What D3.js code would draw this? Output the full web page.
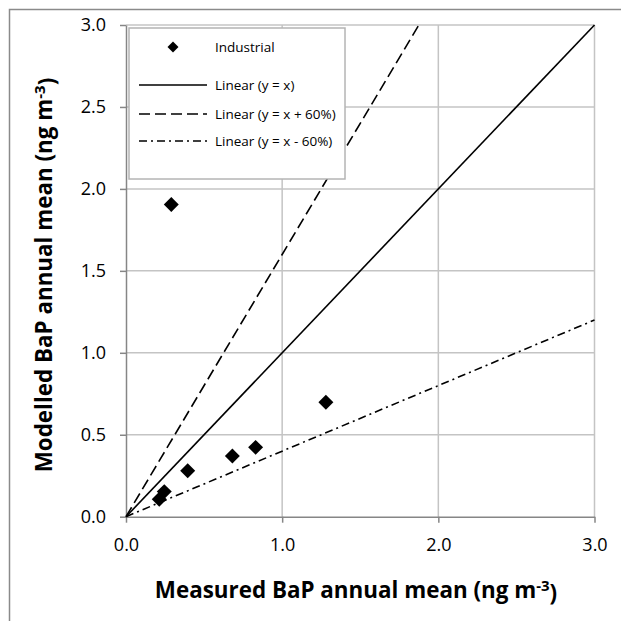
<!DOCTYPE html>
<html><head><meta charset="utf-8">
<script src="https://cdn.jsdelivr.net/npm/d3@7"></script>
<style>body{margin:0;background:#fff}svg{display:block}</style>
</head><body>
<svg id="c" width="621" height="621"></svg>
<script>
// Data
const measured = [0.29, 0.213, 0.245, 0.395, 0.681, 0.830, 1.280];
const modelled = [1.905, 0.106, 0.153, 0.281, 0.370, 0.423, 0.698];
const xTicks = [0, 1, 2, 3];
const yTicks = [0, 0.5, 1, 1.5, 2, 2.5, 3];
const seriesName = "Industrial";
const lineNames = ["Linear (y = x)", "Linear (y = x + 60%)", "Linear (y = x - 60%)"];
const lineFactors = [1, 1.6, 0.4];
const xTitle = "Measured BaP annual mean (ng m";
const yTitle = "Modelled BaP annual mean (ng m";

const svg = d3.select("#c");
const L = 126, R = 594.5, T = 25, B = 516.7;
const x = d3.scaleLinear().domain([0, 3]).range([L, R]);
const y = d3.scaleLinear().domain([0, 3]).range([B, T]);
const font = "'Open Sans', Calibri, sans-serif";

// outer frame
svg.append("path").attr("d", "M9.5,621 L9.5,9.5 L621,9.5").attr("fill", "none").attr("stroke", "#8a8a8a").attr("stroke-width", 1.5);

// gridlines
const grid = svg.append("g");
grid.selectAll(".gy").data(yTicks.filter(d => d > 0)).join("line")
  .attr("x1", L).attr("x2", R).attr("y1", d => y(d)).attr("y2", d => y(d))
  .attr("stroke", "#c4c4c4").attr("stroke-width", 1.5);
grid.selectAll(".gx").data(xTicks.filter(d => d > 0)).join("line")
  .attr("y1", T).attr("y2", B).attr("x1", d => x(d)).attr("x2", d => x(d))
  .attr("stroke", "#c4c4c4").attr("stroke-width", 1.5);

// axes
const xAxis = d3.axisBottom(x).tickValues(xTicks).tickFormat(d3.format(".1f")).tickSizeInner(6).tickSizeOuter(0).tickPadding(16);
const yAxis = d3.axisLeft(y).tickValues(yTicks).tickFormat(d3.format(".1f")).tickSizeInner(6).tickSizeOuter(0).tickPadding(14);
const gx = svg.append("g").attr("transform", `translate(0,${B})`).call(xAxis);
const gy = svg.append("g").attr("transform", `translate(${L},0)`).call(yAxis);
[gx, gy].forEach(g => {
  g.select(".domain").attr("stroke", "#868686").attr("stroke-width", 1.5);
  g.selectAll(".tick line").attr("stroke", "#868686").attr("stroke-width", 1.5);
  g.selectAll(".tick text").attr("fill", "#000").style("font-family", font).style("font-size", "18px");
});
gx.selectAll(".tick text").attr("dy", "0.71em");

// reference lines
const dashes = [null, "11,5", "8,4,2,4"];
lineFactors.forEach((f, i) => {
  const xe = Math.min(3, 3 / f);
  svg.append("line")
    .attr("x1", x(0)).attr("y1", y(0)).attr("x2", x(xe)).attr("y2", y(f * xe))
    .attr("stroke", "#000").attr("stroke-width", 1.6)
    .attr("stroke-dasharray", dashes[i]);
});

// points
const diamond = d3.symbol().type(d3.symbolSquare).size(112);
svg.append("g").selectAll("path").data(measured.map((m, i) => [m, modelled[i]])).join("path")
  .attr("d", diamond)
  .attr("transform", d => `translate(${x(d[0])},${y(d[1])}) rotate(45)`)
  .attr("fill", "#000");

// legend
const lg = svg.append("g");
lg.append("rect").attr("x", 129).attr("y", 28).attr("width", 216).attr("height", 151)
  .attr("fill", "#fff").attr("stroke", "#b4b4b4").attr("stroke-width", 1.5);
const rowY = [47, 85, 114, 141];
lg.append("path").attr("d", d3.symbol().type(d3.symbolSquare).size(60))
  .attr("transform", `translate(173,${rowY[0]}) rotate(45)`).attr("fill", "#000");
lineNames.forEach((n, i) => {
  lg.append("line").attr("x1", 139).attr("x2", 207).attr("y1", rowY[i + 1]).attr("y2", rowY[i + 1])
    .attr("stroke", "#000").attr("stroke-width", 1.6).attr("stroke-dasharray", dashes[i]);
});
[seriesName, ...lineNames].forEach((n, i) => {
  lg.append("text").attr("x", 215).attr("y", rowY[i]).attr("dy", "0.35em")
    .style("font-family", font).style("font-size", "13.5px").text(n);
});

// axis titles
const xt = svg.append("text").attr("x", (155 + 557) / 2).attr("y", 598).attr("text-anchor", "middle")
  .style("font-family", font).style("font-size", "22.4px").style("font-weight", "bold");
xt.append("tspan").text(xTitle);
xt.append("tspan").attr("dy", "-0.45em").style("font-size", "15px").text("-3");
xt.append("tspan").attr("dy", "0.45em").text(")");

const yt = svg.append("text").attr("transform", "translate(52,275) rotate(-90)").attr("text-anchor", "middle")
  .style("font-family", font).style("font-size", "22.4px").style("font-weight", "bold");
yt.append("tspan").text(yTitle);
yt.append("tspan").attr("dy", "-0.45em").style("font-size", "15px").text("-3");
yt.append("tspan").attr("dy", "0.45em").text(")");
</script>
</body></html>
